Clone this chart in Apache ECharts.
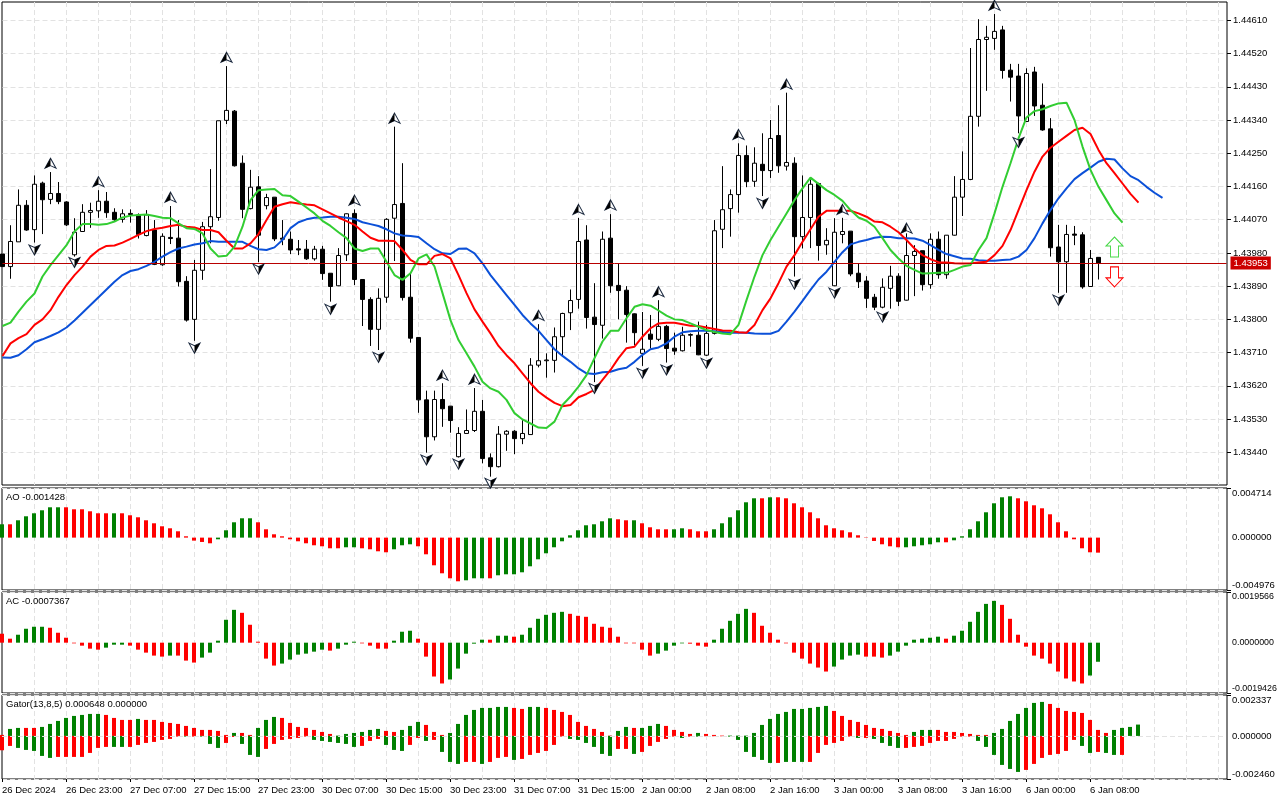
<!DOCTYPE html>
<html><head><meta charset="utf-8">
<style>html,body{margin:0;padding:0;background:#fff}#c{width:1280px;height:800px}</style>
<script src="https://cdn.jsdelivr.net/npm/echarts@6/dist/echarts.min.js"></script>
</head><body><div id="c"></div>
<script>
const tickLabels=["26 Dec 2024","26 Dec 23:00","27 Dec 07:00","27 Dec 15:00","27 Dec 23:00","30 Dec 07:00","30 Dec 15:00","30 Dec 23:00","31 Dec 07:00","31 Dec 15:00","2 Jan 00:00","2 Jan 08:00","2 Jan 16:00","3 Jan 00:00","3 Jan 08:00","3 Jan 16:00","6 Jan 00:00","6 Jan 08:00"];
const priceTicks=[1.4344,1.4353,1.4362,1.4371,1.438,1.4389,1.4398,1.4407,1.4416,1.4425,1.4434,1.4443,1.4452,1.4461];
const currentPrice=1.43953;
const open=[1.43977,1.43943,1.44010,1.44109,1.44043,1.44169,1.44125,1.44141,1.44118,1.43975,
1.44038,1.44090,1.44094,1.44120,1.44090,1.44071,1.44087,1.44083,1.44027,1.44042,
1.43948,1.44022,1.44020,1.43903,1.43800,1.43933,1.44051,1.44076,1.44339,1.44364,
1.44223,1.44100,1.44159,1.44108,1.44131,1.44020,1.44017,1.43991,1.43990,1.43964,
1.43990,1.43925,1.43891,1.43975,1.44087,1.43908,1.43854,1.43773,1.43860,1.44074,
1.44114,1.43860,1.43751,1.43582,1.43482,1.43583,1.43565,1.43428,1.43491,1.43499,
1.43551,1.43425,1.43401,1.43489,1.43497,1.43477,1.43488,1.43676,1.43688,1.43689,
1.43753,1.43818,1.43854,1.44015,1.43806,1.43784,1.44020,1.43892,1.43879,1.43815,
1.43708,1.43760,1.43746,1.43781,1.43722,1.43715,1.43757,1.43757,1.43703,1.43762,
1.44044,1.44100,1.44138,1.44244,1.44174,1.44220,1.44203,1.44298,1.44215,1.44223,
1.44024,1.44076,1.44168,1.44002,1.43891,1.44030,1.44039,1.43925,1.43904,1.43860,
1.43833,1.43884,1.43917,1.43852,1.43973,1.43986,1.43894,1.44017,1.43921,1.44028,
1.44131,1.44179,1.44350,1.44558,1.44561,1.44584,1.44475,1.44459,1.44336,1.44470,
1.44380,1.44316,1.43996,1.43956,1.44031,1.44029,1.43889,1.43968];
const close=[1.43943,1.44011,1.44109,1.44042,1.44166,1.44124,1.44141,1.44119,1.44056,1.44036,
1.44090,1.44095,1.44120,1.44089,1.44070,1.44086,1.44084,1.44030,1.44083,1.43949,
1.44025,1.44019,1.43902,1.43798,1.43933,1.44051,1.44078,1.44338,1.44366,1.44216,
1.44098,1.44158,1.44028,1.44130,1.44018,1.44017,1.43988,1.43988,1.43964,1.43990,
1.43924,1.43889,1.43973,1.44086,1.43908,1.43854,1.43773,1.43857,1.44071,1.44111,
1.43859,1.43749,1.43582,1.43482,1.43583,1.43558,1.43526,1.43491,1.43499,1.43551,
1.43423,1.43401,1.43489,1.43497,1.43477,1.43491,1.43676,1.43688,1.43690,1.43753,
1.43816,1.43851,1.44011,1.43805,1.43786,1.44017,1.43891,1.43878,1.43813,1.43764,
1.43719,1.43746,1.43781,1.43721,1.43714,1.43757,1.43759,1.43704,1.43762,1.44040,
1.44097,1.44138,1.44244,1.44173,1.44223,1.44203,1.44290,1.44216,1.44225,1.44024,
1.44076,1.44166,1.44000,1.44014,1.44036,1.44038,1.43923,1.43902,1.43857,1.43833,
1.43887,1.43917,1.43849,1.43973,1.43984,1.43894,1.44017,1.43921,1.44028,1.44131,
1.44179,1.44350,1.44558,1.44564,1.44580,1.44474,1.44456,1.44351,1.44466,1.44378,
1.44313,1.43994,1.43956,1.44030,1.44028,1.43888,1.43965,1.43953];
const low=[1.43943,1.43910,1.44010,1.44040,1.44008,1.44031,1.44112,1.44112,1.44053,1.43970,
1.44037,1.44048,1.44075,1.44075,1.44067,1.44062,1.44062,1.44019,1.44025,1.43947,
1.43945,1.44004,1.43889,1.43794,1.43742,1.43907,1.44006,1.44067,1.44329,1.44214,
1.44074,1.44098,1.43955,1.44098,1.44012,1.44001,1.43977,1.43974,1.43961,1.43959,
1.43907,1.43848,1.43890,1.43958,1.43893,1.43782,1.43728,1.43717,1.43845,1.43958,
1.43851,1.43737,1.43547,1.43439,1.43472,1.43509,1.43493,1.43426,1.43491,1.43495,
1.43410,1.43374,1.43399,1.43444,1.43435,1.43462,1.43488,1.43670,1.43642,1.43656,
1.43699,1.43771,1.43829,1.43775,1.43630,1.43748,1.43872,1.43800,1.43737,1.43730,
1.43674,1.43721,1.43741,1.43683,1.43704,1.43713,1.43726,1.43703,1.43701,1.43759,
1.43993,1.44024,1.44089,1.44158,1.44159,1.44134,1.44183,1.44197,1.44203,1.43916,
1.43992,1.43993,1.43959,1.43975,1.43890,1.44006,1.43917,1.43885,1.43831,1.43825,
1.43830,1.43829,1.43836,1.43851,1.43863,1.43878,1.43883,1.43910,1.43910,1.44027,
1.44080,1.44177,1.44322,1.44419,1.44530,1.44452,1.44390,1.44304,1.44335,1.44351,
1.44311,1.43970,1.43872,1.43872,1.44001,1.43883,1.43888,1.43908];
const high=[1.43977,1.44055,1.44152,1.44123,1.44190,1.44173,1.44199,1.44172,1.44120,1.44074,
1.44112,1.44116,1.44150,1.44145,1.44101,1.44098,1.44098,1.44087,1.44096,1.44069,
1.44033,1.44107,1.44069,1.43917,1.43961,1.44064,1.44207,1.44338,1.44486,1.44367,
1.44244,1.44205,1.44188,1.44140,1.44131,1.44069,1.44038,1.44015,1.44015,1.43999,
1.43999,1.43925,1.43993,1.44087,1.44098,1.43908,1.43860,1.43884,1.44074,1.44322,
1.44223,1.43927,1.43751,1.43607,1.43607,1.43627,1.43565,1.43508,1.43556,1.43614,
1.43582,1.43437,1.43511,1.43500,1.43500,1.43527,1.43695,1.43787,1.43708,1.43778,
1.43818,1.43881,1.44075,1.44055,1.43898,1.44038,1.44085,1.43950,1.43890,1.43816,
1.43820,1.43812,1.43852,1.43785,1.43764,1.43780,1.43762,1.43794,1.43785,1.44069,
1.44215,1.44152,1.44277,1.44271,1.44266,1.44304,1.44340,1.44380,1.44414,1.44239,
1.44190,1.44184,1.44170,1.44047,1.44074,1.44075,1.44039,1.43952,1.43917,1.43869,
1.43911,1.43945,1.43925,1.44033,1.44001,1.43986,1.44033,1.44038,1.44028,1.44188,
1.44255,1.44535,1.44613,1.44595,1.44627,1.44595,1.44492,1.44492,1.44480,1.44484,
1.44439,1.44345,1.44056,1.44056,1.44053,1.44036,1.43988,1.43968];
const lips=[1.43782,1.43791,1.43821,1.43848,1.43870,1.43916,1.43947,1.43974,1.44001,1.44038,
1.44058,1.44058,1.44056,1.44058,1.44065,1.44076,1.44081,1.44083,1.44084,1.44080,
1.44075,1.44074,1.44060,1.44047,1.44045,1.44033,1.43992,1.43970,1.43972,1.43997,
1.44051,1.44123,1.44150,1.44152,1.44153,1.44136,1.44134,1.44119,1.44103,1.44087,
1.44067,1.44053,1.44036,1.44020,1.43992,1.43985,1.43992,1.43992,1.43956,1.43920,
1.43907,1.43925,1.43965,1.43976,1.43943,1.43871,1.43798,1.43744,1.43708,1.43672,
1.43631,1.43613,1.43604,1.43582,1.43546,1.43529,1.43518,1.43507,1.43506,1.43523,
1.43568,1.43591,1.43618,1.43649,1.43695,1.43740,1.43769,1.43769,1.43803,1.43834,
1.43841,1.43837,1.43824,1.43810,1.43800,1.43798,1.43789,1.43780,1.43771,1.43766,
1.43762,1.43760,1.43785,1.43852,1.43916,1.43974,1.44015,1.44051,1.44087,1.44123,
1.44155,1.44184,1.44167,1.44150,1.44137,1.44121,1.44096,1.44076,1.44067,1.44051,
1.44020,1.43988,1.43965,1.43945,1.43934,1.43924,1.43925,1.43926,1.43926,1.43934,
1.43943,1.43947,1.43988,1.44020,1.44087,1.44159,1.44223,1.44290,1.44347,1.44364,
1.44369,1.44378,1.44385,1.44387,1.44340,1.44268,1.44205,1.44159,1.44123,1.44087,1.44062];
const teeth=[1.43701,1.43735,1.43749,1.43760,1.43785,1.43800,1.43825,1.43861,1.43893,1.43920,
1.43943,1.43970,1.43988,1.43999,1.44000,1.44008,1.44018,1.44029,1.44039,1.44045,
1.44048,1.44053,1.44056,1.44051,1.44049,1.44042,1.44042,1.44036,1.44013,1.43992,
1.43992,1.44006,1.44031,1.44069,1.44105,1.44112,1.44117,1.44114,1.44111,1.44109,
1.44098,1.44087,1.44076,1.44066,1.44056,1.44038,1.44021,1.44013,1.44013,1.44012,
1.43988,1.43961,1.43949,1.43949,1.43972,1.43977,1.43965,1.43920,1.43871,1.43827,
1.43794,1.43762,1.43728,1.43703,1.43681,1.43654,1.43627,1.43604,1.43588,1.43574,
1.43565,1.43568,1.43589,1.43598,1.43609,1.43636,1.43663,1.43695,1.43722,1.43726,
1.43753,1.43776,1.43789,1.43791,1.43791,1.43787,1.43783,1.43782,1.43778,1.43774,
1.43770,1.43769,1.43765,1.43764,1.43785,1.43825,1.43857,1.43898,1.43943,1.43974,
1.44010,1.44044,1.44078,1.44094,1.44094,1.44094,1.44094,1.44087,1.44078,1.44065,
1.44063,1.44051,1.44036,1.44015,1.43992,1.43974,1.43963,1.43955,1.43954,1.43952,
1.43951,1.43952,1.43954,1.43956,1.43974,1.43999,1.44042,1.44096,1.44150,1.44200,
1.44241,1.44265,1.44281,1.44297,1.44313,1.44319,1.44302,1.44259,1.44223,1.44196,1.44168,1.44140,1.44116];
const jaw=[1.43697,1.43696,1.43703,1.43719,1.43738,1.43746,1.43755,1.43765,1.43778,1.43797,
1.43818,1.43839,1.43860,1.43881,1.43902,1.43920,1.43931,1.43936,1.43945,1.43956,
1.43970,1.43982,1.43992,1.43997,1.44003,1.44006,1.44012,1.44010,1.44010,1.44010,
1.44010,1.43999,1.43990,1.43988,1.43995,1.44015,1.44047,1.44063,1.44071,1.44075,
1.44076,1.44078,1.44078,1.44075,1.44072,1.44063,1.44058,1.44053,1.44044,1.44033,
1.44027,1.44026,1.44023,1.44006,1.43990,1.43979,1.43977,1.43991,1.43992,1.43979,
1.43952,1.43920,1.43893,1.43866,1.43839,1.43812,1.43789,1.43769,1.43744,1.43719,
1.43701,1.43685,1.43667,1.43654,1.43652,1.43657,1.43658,1.43665,1.43669,1.43685,
1.43704,1.43719,1.43724,1.43735,1.43753,1.43765,1.43768,1.43769,1.43769,1.43768,
1.43766,1.43764,1.43764,1.43764,1.43762,1.43761,1.43761,1.43769,1.43794,1.43821,
1.43850,1.43880,1.43908,1.43929,1.43956,1.43982,1.44003,1.44010,1.44015,1.44021,
1.44024,1.44023,1.44020,1.44020,1.44019,1.44013,1.44001,1.43988,1.43977,1.43971,
1.43965,1.43964,1.43960,1.43959,1.43959,1.43961,1.43962,1.43970,1.43988,1.44020,
1.44060,1.44096,1.44128,1.44155,1.44180,1.44196,1.44211,1.44227,1.44235,1.44233,
1.44209,1.44188,1.44177,1.44159,1.44143,1.44129];
const fractalUpBars=[6,12,21,28,44,49,55,59,67,72,76,82,92,98,105,113,124];
const fractalUpLevels=[1.44223,1.44173,1.44131,1.44510,1.44123,1.44345,1.43649,1.43638,1.43811,1.44098,1.44110,1.43875,1.44301,1.44437,1.44098,1.44047,1.44651];
const fractalDownBars=[4,9,24,32,41,47,53,57,61,74,80,83,88,95,99,104,110,127,132];
const fractalDownLevels=[1.43988,1.43954,1.43722,1.43936,1.43827,1.43697,1.43419,1.43408,1.43356,1.43613,1.43654,1.43663,1.43681,1.44114,1.43895,1.43871,1.43806,1.44279,1.43852];
const signalBar=[139];
const signalUpLevel=[1.43996];
const signalDownLevel=[1.43915];

const aoValues=[.001267,.001267,.001647,.002027,.002312,.002597,.002882,.002882,.002882,.002692,
.002692,.002502,.002312,.002312,.002312,.002312,.002122,.001932,.001647,.001362,
.001077,.000887,.000602,.000127,-.000285,-.000412,-.000538,-.000158,.000697,.001457,
.001837,.001837,.001457,.000792,.000317,.000127,-.000158,-.000348,-.000538,-.000728,
-.000823,-.001013,-.001013,-.000918,-.000918,-.001013,-.001108,-.001298,-.001393,-.001108,
-.000728,-.000633,-.000823,-.001584,-.002629,-.003389,-.003864,-.004149,-.004054,-.003864,
-.003864,-.003864,-.003579,-.003484,-.003484,-.003294,-.002724,-.002059,-.001488,-.000918,
-.000348,.000222,.000697,.001172,.001267,.001552,.001837,.001742,.001647,.001647,
.001362,.000982,.000792,.000792,.000792,.000887,.000792,.000602,.000602,.000792,
.001362,.001932,.002597,.003357,.003737,.003737,.003832,.003832,.003737,.003262,
.002882,.002407,.001837,.001172,.000887,.000697,.000507,.000222,-.000032,-.000317,
-.000633,-.000823,-.000918,-.000918,-.000823,-.000728,-.000633,-.000443,-.000443,-.000253,
.000127,.000792,.001552,.002407,.003262,.003832,.003927,.003737,.003452,.003072,
.002787,.002217,.001457,.000602,-.000158,-.001013,-.001393,-.001428];
const aoRising=[1,0,1,1,1,1,1,1,0,0, 0,0,0,0,1,0,0,0,0,0, 0,0,0,0,0,0,0,1,1,1, 1,1,0,0,0,0,0,0,0,0, 0,0,0,1,1,0,0,0,0,1, 1,1,0,0,0,0,0,0,1,1, 1,0,1,1,1,1,1,1,1,1, 1,1,1,1,1,1,1,0,0,1, 0,0,0,0,1,1,0,0,0,1, 1,1,1,1,1,0,1,0,0,0, 0,0,0,0,0,0,0,0,0,0, 0,0,0,1,1,1,1,1,0,1, 1,1,1,1,1,1,1,0,0,0, 0,0,0,0,0,0,0,0];
const acValues=[.000346,.000154,.000307,.000538,.000615,.000615,.000576,.000384,.000192,-.000026,
-.000115,-.000231,-.000269,-.000192,-.000077,-.000077,-.000115,-.000269,-.000384,-.000499,
-.000538,-.000499,-.000499,-.000692,-.000768,-.000576,-.000384,.000077,.000884,.001268,
.001153,.000692,.000038,-.000615,-.000884,-.000807,-.000653,-.000461,-.000423,-.000346,
-.000269,-.000307,-.000231,-.000077,.000038,-.000026,-.000115,-.000231,-.000231,.000077,
.000423,.000461,.000154,-.000538,-.001306,-.001575,-.001421,-.000999,-.000423,-.000038,
.000115,.000115,.000269,.000269,.000231,.000307,.000576,.000922,.001076,.001153,
.001191,.001114,.001037,.000999,.00073,.000615,.000576,.000231,-.000026,-.000026,
-.000269,-.000499,-.000423,-.000307,-.000115,-.000026,-.000038,-.000115,-.000154,.000115,
.000538,.000845,.001114,.001306,.001153,.000653,.000384,.000115,-.000026,-.000384,
-.000615,-.000807,-.00096,-.001114,-.000922,-.000653,-.000499,-.000461,-.000538,-.000538,
-.000576,-.000499,-.000346,-.000115,.000115,.000154,.000192,.000231,.000154,.000269,
.000461,.000807,.001191,.001498,.001614,.00146,.000922,.000307,-.000154,-.000499,
-.000615,-.000807,-.001114,-.001383,-.001498,-.001575,-.001268,-.000737];
const acRising=[0,0,1,1,1,1,0,0,0,0, 0,0,0,1,1,1,0,0,0,0, 0,1,0,0,0,1,1,1,1,1, 0,0,0,0,0,1,1,1,1,1, 1,0,1,1,1,0,0,0,0,1, 1,1,0,0,0,0,1,1,1,1, 1,0,1,1,0,1,1,1,1,1, 1,0,0,0,0,0,0,0,0,0, 0,0,1,1,1,1,0,0,0,1, 1,1,1,1,0,0,0,0,0,0, 0,0,0,0,1,1,1,1,0,0, 0,1,1,1,1,1,1,1,0,1, 1,1,1,1,1,0,0,0,0,0, 0,0,0,0,0,0,1,1];
const gatorUpper=[.000057,.0004,.000457,.000457,.000457,.000514,.000685,.000857,.001028,.001142,
.001199,.001256,.001256,.001199,.001028,.000914,.000914,.000971,.000914,.000914,
.0008,.000742,.000685,.000571,.000457,.000343,.000343,.000286,.000057,.000171,
.000171,.000057,.000457,.000914,.001085,.001028,.000742,.000514,.000457,.000343,
.000228,.000114,.000019,.000114,.000171,.000228,.000343,.0004,.000286,.000228,
.000343,.000571,.0008,.000628,.000228,.000057,.000171,.000685,.001199,.001485,
.001599,.001599,.001656,.001656,.001599,.001542,.001656,.001656,.001599,.001485,
.001371,.001199,.0008,.000571,.0004,.000228,.000019,.000286,.000514,.000457,
.000457,.000571,.000685,.000571,.000343,.000228,.000114,.000171,.000114,.000057,
.000019,.000019,.000019,.000019,.000171,.000628,.000971,.001256,.001371,.001542,
.001542,.001599,.001656,.001713,.001428,.001142,.000914,.0008,.000628,.000457,
.0004,.000286,.000171,.000057,.000228,.000343,.000343,.000343,.000228,.000228,
.000171,.000114,.000057,.000057,.000171,.0004,.000857,.001256,.001599,.001885,
.001942,.001827,.001599,.001428,.001371,.001313,.000914,.000343,.000171,.000343,
.000457,.000514,.000648];
const gatorLower=[-.000819,-.000571,-.000685,-.0008,-.000857,-.001142,-.001256,-.001199,-.001199,-.001199,
-.001199,-.000971,-.000685,-.000628,-.000628,-.000628,-.000628,-.000514,-.0004,-.000343,
-.000228,-.000171,-.000038,-.000038,-.000038,-.000038,-.000457,-.000685,-.0004,-.000057,
-.000457,-.001085,-.001199,-.000742,-.000457,-.000228,-.000171,-.000114,-.000038,-.000228,
-.000286,-.000343,-.0004,-.000457,-.000628,-.000571,-.000286,-.000171,-.000514,-.0008,
-.000857,-.000514,-.000114,-.000286,-.000228,-.000914,-.001485,-.001599,-.001485,-.001485,
-.001599,-.001485,-.001256,-.001199,-.001371,-.001313,-.001085,-.000971,-.000857,-.000514,
-.000038,-.000171,-.000228,-.0004,-.000628,-.001028,-.001142,-.000742,-.000742,-.001028,
-.000914,-.000571,-.000343,-.000171,-.000038,-.000114,-.000038,-.000038,-.000019,-.000019,
-.000019,-.000038,-.000228,-.000914,-.001199,-.001371,-.001542,-.001542,-.001485,-.001485,
-.001485,-.001485,-.000971,-.000514,-.0004,-.000286,-.000038,-.000114,-.000114,-.000171,
-.0004,-.000571,-.000685,-.000685,-.000628,-.000571,-.0004,-.000286,-.000286,-.000171,
-.000038,-.000038,-.000286,-.000628,-.001085,-.001656,-.001885,-.002056,-.001942,-.001599,
-.001256,-.001085,-.001028,-.000857,-.000228,-.000571,-.000971,-.000914,-.000971,-.001085,-.001085];
const gatorUpperRising=[0,1,1,0,0,1,1,1,1,1, 1,1,1,0,0,0,0,1,0,0, 0,0,0,0,0,0,0,0,0,1, 0,0,1,1,1,0,0,0,0,0, 0,0,1,1,1,1,1,1,0,0, 1,1,1,0,0,0,1,1,1,1, 1,1,1,1,0,0,1,1,0,0, 0,0,0,0,0,0,0,1,1,0, 1,1,1,0,0,0,0,1,0,0, 0,1,1,1,1,1,1,1,1,1, 1,1,1,1,0,0,0,0,0,0, 0,0,0,0,1,1,1,0,0,0, 0,0,0,0,1,1,1,1,1,1, 1,0,0,0,0,0,0,0,0,1, 1,1,1];
const gatorLowerRising=[0,0,1,1,1,1,1,0,0,0, 0,0,0,0,1,1,0,0,0,0, 0,0,0,1,0,1,1,1,0,0, 1,1,1,0,0,0,0,0,0,1, 1,1,1,1,1,0,0,0,1,1, 1,0,0,1,0,1,1,1,0,0, 1,0,0,0,1,0,0,0,0,0, 0,1,1,1,1,1,1,0,0,1, 0,0,0,0,0,1,0,1,0,0, 0,1,1,1,1,1,1,0,1,1, 1,0,0,0,0,0,0,1,0,1, 1,1,1,0,0,0,0,0,0,0, 0,0,1,1,1,1,1,1,0,0, 0,0,0,0,0,1,1,0,1,1, 0];
const aoRange=[-.004976,0,.004714], acRange=[-.0019426,0,.0019566], gatorRange=[-.00246,0,.002337];

const categories=Array.from({length:154},(_,i)=>(i%8===0&&tickLabels[i/8])?tickLabels[i/8]:'');
const FONT='"Liberation Sans",Arial,sans-serif', FS=9.5;
const GREEN='#008000',RED='#ff0000',GRID='#e2e2e2';
const split={show:true,lineStyle:{color:GRID,type:[5,3],width:1}};
const lastTick=(tickLabels.length-1)*8;
function xAxis(idx,showLabel){return {type:'category',gridIndex:idx,data:categories,boundaryGap:false,
  axisLine:{show:false,onZero:false,lineStyle:{color:'#000'}},
  axisTick:{show:showLabel,length:3,interval:i=>i%8===0&&i<=lastTick,lineStyle:{color:'#000'}},
  axisLabel:{show:showLabel,interval:0,align:'left',margin:6,color:'#000',fontFamily:FONT,fontSize:FS,hideOverlap:false},
  splitLine:{show:true,interval:i=>i>0&&i%4===0,lineStyle:split.lineStyle}};}
function subY(idx,range,dec){return {type:'value',gridIndex:idx,position:'right',offset:1,min:range[0],max:range[2],
  axisLine:{show:false,onZero:false,lineStyle:{color:'#000'}},
  axisTick:{show:true,length:4,customValues:[range[0],range[2]],lineStyle:{color:'#000'}},
  axisLabel:{show:true,customValues:range,margin:5,color:'#000',fontFamily:FONT,fontSize:dec===7?8.9:FS,
    verticalAlignMaxLabel:'top',verticalAlignMinLabel:'bottom',
    formatter:v=>v.toFixed(dec)},
  splitLine:split};}
const colorBy=flags=>p=>flags[p.dataIndex]?GREEN:RED;
function bars(idx,data,flags,extra){return Object.assign({type:'bar',xAxisIndex:idx,yAxisIndex:idx,data,barWidth:4,barGap:'-100%',animation:false,silent:true,
  itemStyle:{color:colorBy(flags)}},extra||{});}
function line(data,color){return {type:'line',xAxisIndex:0,yAxisIndex:0,data,showSymbol:false,symbol:'none',z:3,animation:false,silent:true,lineStyle:{color,width:2}};}
const zip=(a,b)=>a.map((x,i)=>[x,b[i]]);
function glyph(data,path,size,offset,fill,border){return {type:'scatter',xAxisIndex:0,yAxisIndex:0,data,symbol:path,symbolSize:size,symbolOffset:offset,z:5,animation:false,silent:true,
  itemStyle:{color:fill,borderColor:border,borderWidth:border==='none'?0:1,opacity:1}};}
const upFull='path://M0,-6 L6,6 L0,3 L-6,6 Z', upHalf='path://M0,-6 L0,3 L-6,6 Z';
const dnFull='path://M0,6 L-6,-6 L0,-3 L6,-6 Z', dnHalf='path://M0,6 L0,-3 L6,-6 Z';
const upArrow='path://M0,-10 L8.5,-1 L4,-1 L4,10 L-4,10 L-4,-1 L-8.5,-1 Z', dnArrow='path://M0,10 L8.5,1 L4,1 L4,-10 L-4,-10 L-4,1 L-8.5,1 Z';
const upPts=zip(fractalUpBars,fractalUpLevels), dnPts=zip(fractalDownBars,fractalDownLevels);
const titleStyle={fontSize:FS,fontWeight:'normal',color:'#000',fontFamily:FONT};
const gridBase={left:2,width:1224,show:false,outerBoundsMode:'none',containLabel:false};
const frameBase={left:2,width:1225,show:true,borderColor:'#000',borderWidth:1,backgroundColor:'#fff',outerBoundsMode:'none'};

const option={animation:false,backgroundColor:'#fff',
 textStyle:{fontFamily:FONT},
 title:[
  {text:'AO -0.001428',left:6,top:492,textStyle:titleStyle,padding:0},
  {text:'AC -0.0007367',left:6,top:596,textStyle:titleStyle,padding:0},
  {text:'Gator(13,8,5) 0.000648 0.000000',left:6,top:699,textStyle:titleStyle,padding:0}
 ],
 grid:[
  {...gridBase,left:2.5,top:2,height:483},
  {...gridBase,top:488,height:102},
  {...gridBase,top:592,height:101},
  {...gridBase,top:695,height:84},
  {...frameBase,top:2,height:483},
  {...frameBase,top:488,height:102},
  {...frameBase,top:592,height:101},
  {...frameBase,top:695,height:84}
 ],
 xAxis:[xAxis(0,false),xAxis(1,false),xAxis(2,false),xAxis(3,true)],
 yAxis:[
  {type:'value',gridIndex:0,position:'right',offset:0.5,min:1.433514,max:1.446596,
   axisLine:{show:false,onZero:false,lineStyle:{color:'#000'}},
   axisTick:{show:true,length:4,customValues:priceTicks,lineStyle:{color:'#000'}},
   axisLabel:{show:true,customValues:priceTicks,margin:6,color:'#000',fontFamily:FONT,fontSize:FS,formatter:v=>v.toFixed(5),showMinLabel:true,showMaxLabel:true},
   splitLine:split},
  subY(1,aoRange,6),subY(2,acRange,7),subY(3,gatorRange,6)
 ],
 series:[
  {type:'line',xAxisIndex:0,yAxisIndex:0,data:[],z:1,symbol:'none',silent:true,animation:false,
   markLine:{silent:true,symbol:'none',animation:false,precision:5,
    lineStyle:{color:'#b80000',width:1,type:'solid'},
    label:{show:true,position:'end',distance:4,formatter:()=>currentPrice.toFixed(5),color:'#fff',backgroundColor:'#cc0000',padding:[2,3,1,3],fontFamily:FONT,fontSize:FS},
    data:[{yAxis:currentPrice}]}},
  {type:'candlestick',xAxisIndex:0,yAxisIndex:0,z:2,animation:false,silent:true,barWidth:5,
   data:open.map((o,i)=>[o,close[i],low[i],high[i]]),
   itemStyle:{color:'#fff',color0:'#000',borderColor:'#000',borderColor0:'#000',borderWidth:1}},
  line(jaw,'#0b50d8'),line(teeth,'#ff0000'),line(lips,'#32cd32'),
  glyph(upPts,upFull,[11,10],[0,0],'#fff','#1c2a40'),
  glyph(upPts,upHalf,[5.5,10],[-2.75,0],'#000','none'),
  glyph(dnPts,dnFull,[11,10],[0,0],'#fff','#1c2a40'),
  glyph(dnPts,dnHalf,[5.5,10],[2.75,0],'#000','none'),
  glyph(zip(signalBar,signalUpLevel),upArrow,[17,20],[0,0],'#fff','#46d846'),
  glyph(zip(signalBar,signalDownLevel),dnArrow,[17,20],[0,0],'#fff','#ff0000'),
  bars(1,aoValues,aoRising),
  bars(2,acValues,acRising),
  bars(3,gatorUpper,gatorUpperRising,{markLine:{silent:true,symbol:'none',animation:false,precision:6,z:6,label:{show:false},lineStyle:{color:GRID,type:[5,3],width:1},data:[{yAxis:0}]}}),
  bars(3,gatorLower,gatorLowerRising)
 ]};
echarts.init(document.getElementById('c'),null,{renderer:'canvas'}).setOption(option);
</script></body></html>
